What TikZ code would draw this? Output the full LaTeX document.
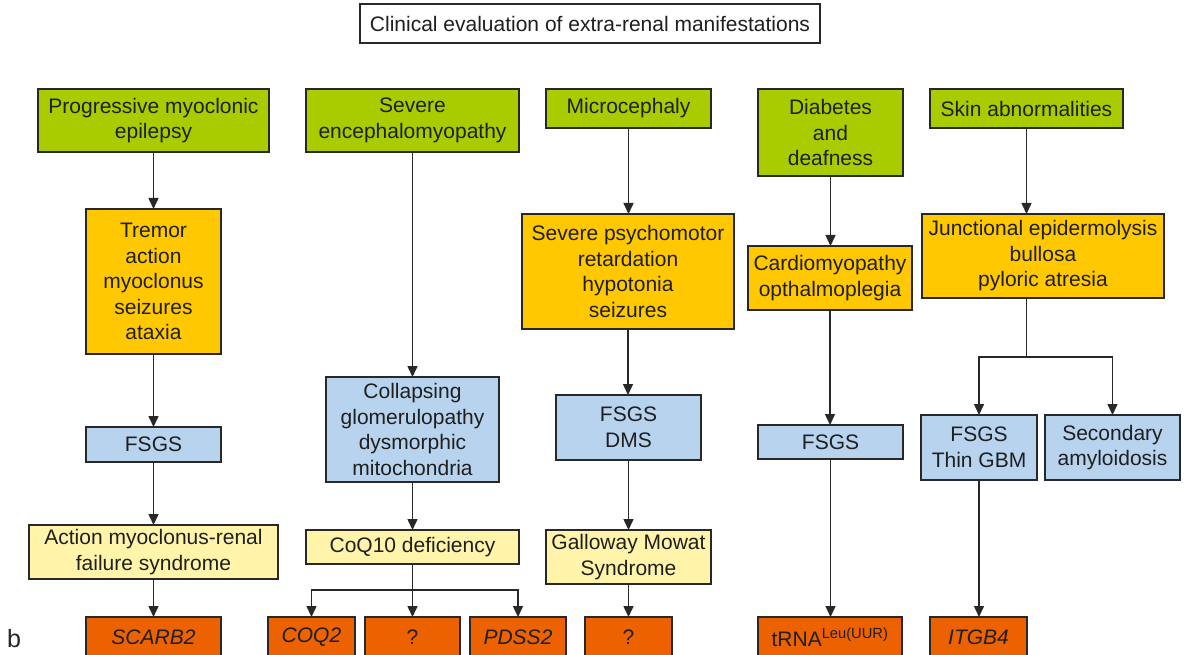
\documentclass[tikz,border=0pt]{standalone}
\usepackage{fontspec}
\setmainfont{Liberation Sans}
\usetikzlibrary{arrows.meta}
\definecolor{cgreen}{RGB}{168,204,0}
\definecolor{cgold}{RGB}{255,200,0}
\definecolor{cblue}{RGB}{183,211,238}
\definecolor{cpale}{RGB}{255,244,170}
\definecolor{corange}{RGB}{236,98,0}
\definecolor{cline}{RGB}{40,40,40}
\begin{document}
\begin{tikzpicture}[x=1pt,y=-1pt,
  box/.style={draw=cline, line width=1.6pt, inner sep=0pt, outer sep=0pt, align=center, anchor=north west, font=\fontsize{21}{25.5}\selectfont, text=black!88},
  gbox/.style={box, fill=cgreen},
  obox/.style={box, fill=cgold},
  bbox/.style={box, fill=cblue},
  pbox/.style={box, fill=cpale},
  rbox/.style={box, fill=corange, minimum height=40pt},
  conn/.style={draw=cline, line width=1.5pt},
  arr/.style={conn, -{Triangle[length=11pt,width=10pt]}}]
\useasboundingbox[fill=white] (0,0) rectangle (1189,655);

% title
\node[box, fill=white, line width=1.3pt, minimum width=460pt, minimum height=39pt] (title) at (360,4) {Clinical evaluation of extra-renal manifestations};

% row 1
\node[gbox, minimum width=231pt, minimum height=63pt] (pme) at (38,89) {Progressive myoclonic\\epilepsy};
\node[gbox, minimum width=213pt, minimum height=63pt] (sev) at (306,89) {Severe\\encephalomyopathy};
\node[gbox, minimum width=165pt, minimum height=39pt] (micro) at (546,89) {Microcephaly};
\node[gbox, minimum width=145pt, minimum height=87pt] (diab) at (758,89) {Diabetes\\and\\deafness};
\node[gbox, minimum width=193pt, minimum height=39pt] (skin) at (930,89) {Skin abnormalities};

% row 2
\node[obox, minimum width=135pt, minimum height=145pt] (tremor) at (86,209) {Tremor\\action\\myoclonus\\seizures\\ataxia};
\node[obox, minimum width=212pt, minimum height=115pt] (psych) at (522,214) {Severe psychomotor\\retardation\\hypotonia\\seizures};
\node[obox, minimum width=164pt, minimum height=64pt] (cardio) at (748,246) {Cardiomyopathy\\opthalmoplegia};
\node[obox, minimum width=242pt, minimum height=84pt] (junc) at (922,214) {Junctional epidermolysis\\bullosa\\pyloric atresia};

% row 3
\node[bbox, minimum width=135pt, minimum height=35pt] (fsgsa) at (86,427) {FSGS};
\node[bbox, minimum width=173pt, minimum height=105pt] (coll) at (326,377) {Collapsing\\glomerulopathy\\dysmorphic\\mitochondria};
\node[bbox, minimum width=145pt, minimum height=65pt] (dms) at (556,395) {FSGS\\DMS};
\node[bbox, minimum width=145pt, minimum height=34pt] (fsgsb) at (758,425) {FSGS};
\node[bbox, minimum width=116pt, minimum height=65pt] (thin) at (921,415) {FSGS\\Thin GBM};
\node[bbox, minimum width=135pt, minimum height=65pt] (sec) at (1045,415) {Secondary\\amyloidosis};

% row 4
\node[pbox, minimum width=249pt, minimum height=54pt] (amrf) at (29,525) {Action myoclonus-renal\\failure syndrome};
\node[pbox, minimum width=213pt, minimum height=34pt] (coq) at (306,530) {CoQ10 deficiency};
\node[pbox, minimum width=165pt, minimum height=54pt] (gall) at (546,530) {Galloway Mowat\\Syndrome};

% row 5
\node[rbox, minimum width=135pt] (scarb) at (86,617) {\itshape SCARB2};
\node[rbox, minimum width=87pt] (coqii) at (268,617) {\itshape COQ2};
\node[rbox, minimum width=95pt] (qa) at (365,617) {?};
\node[rbox, minimum width=96pt] (pdss) at (470,617) {\itshape PDSS2};
\node[rbox, minimum width=87pt] (qb) at (585,617) {?};
\node[rbox, minimum width=144pt] (trna) at (758,617) {tRNA\textsuperscript{Leu(UUR)}};
\node[rbox, minimum width=97pt] (itgb) at (930,617) {\itshape ITGB4};

\node[font=\fontsize{25}{25}\selectfont, anchor=base, inner sep=0pt, text=black!85] (lab) at (14,647) {b};

% column 1
\draw[arr] (pme.south) -- (tremor.north);
\draw[arr] (tremor.south) -- (fsgsa.north);
\draw[arr] (fsgsa.south) -- (amrf.north);
\draw[arr] (amrf.south) -- (scarb.north);

% column 2
\draw[arr] (sev.south) -- (coll.north);
\draw[arr] (coll.south) -- (coq.north);
\draw[arr] (coq.south) -- (qa.north);
\coordinate (hq) at (0,590);
\coordinate (jq) at (coq.south |- hq);
\draw[arr] (jq) -| (coqii.north);
\draw[arr] (jq) -| (pdss.north);

% column 3
\draw[arr] (micro.south) -- (micro.south |- psych.north);
\draw[arr] (psych.south) -- (psych.south |- dms.north);
\draw[arr] (dms.south) -- (gall.north);
\draw[arr] (gall.south) -- (qb.north);

% column 4
\draw[arr] (diab.south) -- (diab.south |- cardio.north);
\draw[arr] (cardio.south) -- (cardio.south |- fsgsb.north);
\draw[arr] (fsgsb.south) -- (fsgsb.south |- trna.north);

% column 5
\draw[arr] (skin.south) -- (skin.south |- junc.north);
\coordinate (hs) at (0,357);
\coordinate (js) at (skin.south |- hs);
\draw[conn] (skin.south |- junc.south) -- (js);
\draw[arr] (js) -| (thin.north);
\draw[arr] (js) -| (sec.north);
\draw[arr] (thin.south) -- (thin.south |- itgb.north);
\end{tikzpicture}
\end{document}
